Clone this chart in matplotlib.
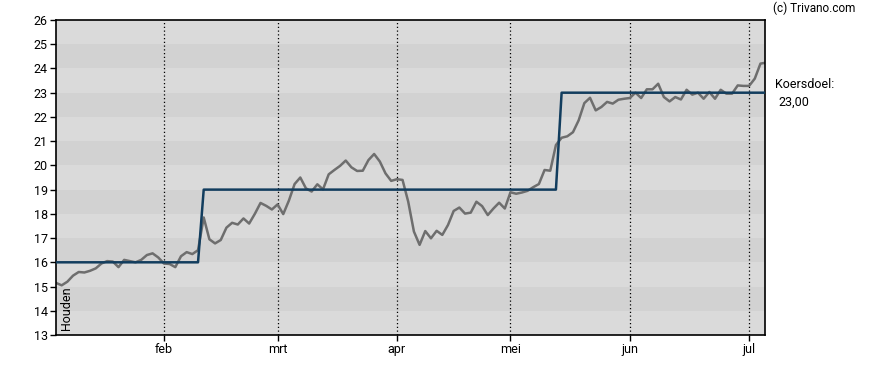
import matplotlib.pyplot as plt
import numpy as np

plt.rcParams['font.family'] = ['Roboto', 'DejaVu Sans']

# koers per handelsdag (jan - begin jul)
price = [
    15.15, 15.05, 15.2, 15.45, 15.6, 15.58, 15.65, 15.75, 15.95, 16.05,
    16.03, 15.8, 16.1, 16.05, 16.0, 16.1, 16.3, 16.37, 16.2, 15.95,
    15.93, 15.8, 16.25, 16.42, 16.34, 16.5, 17.85, 16.95, 16.78, 16.92,
    17.43, 17.63, 17.56, 17.81, 17.6, 18.0, 18.45, 18.33, 18.18, 18.39,
    17.99, 18.55, 19.23, 19.5, 19.05, 18.92, 19.22, 19.01, 19.63, 19.81,
    19.98, 20.2, 19.92, 19.77, 19.78, 20.22, 20.47, 20.16, 19.67, 19.36,
    19.43, 19.4, 18.5, 17.27, 16.72, 17.29, 16.99, 17.3, 17.13, 17.54,
    18.12, 18.26, 18.01, 18.05, 18.5, 18.32, 17.95, 18.22, 18.46, 18.22,
    18.89, 18.83, 18.88, 18.95, 19.1, 19.23, 19.81, 19.78, 20.84, 21.14,
    21.2, 21.37, 21.86, 22.57, 22.79, 22.27, 22.41, 22.62, 22.55, 22.71,
    22.75, 22.78, 23.0, 22.78, 23.14, 23.14, 23.37, 22.82, 22.64, 22.82,
    22.72, 23.12, 22.92, 23.0, 22.75, 23.03, 22.75, 23.12, 22.96, 22.96,
    23.3, 23.28, 23.28, 23.58, 24.2, 24.24,
]

# koersdoel: (laatste dag index, doel)
target_steps = [(25, 16.0), (88, 19.0), (125, 23.0)]
target_label = "23,00"

month_labels = ["feb", "mrt", "apr", "mei", "jun", "jul"]
month_idx = [19, 39, 60, 80, 101, 122]

x = np.arange(len(price))
target = np.empty(len(price))
start = 0
for end, val in target_steps:
    target[start:end + 1] = val
    start = end + 1

fig = plt.figure(figsize=(8.88, 3.70), dpi=100)
ax = fig.add_axes([56 / 888, 35 / 370, 709 / 888, 315 / 370])

# achtergrond banden
for v in range(13, 26):
    ax.axhspan(v, v + 1, color="#d2d2d2" if v % 2 == 0 else "#dadada", lw=0, zorder=0)

for m in month_idx:
    ax.axvline(m, color="black", ls=(0, (1, 2)), lw=0.9, zorder=1)

ax.plot(x, price, color="#6e6e6e", lw=1.8, zorder=2)
ax.plot(x, target, color="#123d5e", lw=1.8, zorder=3)

ax.set_xlim(0, 124.8)
ax.set_ylim(13, 26)
ax.set_yticks(range(13, 27))
ax.set_xticks(month_idx)
ax.set_xticklabels(month_labels)
ax.tick_params(labelsize=9, length=4, width=1, color="black", pad=2)
for s in ax.spines.values():
    s.set_color("black")
    s.set_linewidth(1.2)

ax.text(0.006, 0.015, "Houden", rotation=90, fontsize=9, transform=ax.transAxes,
        ha="left", va="bottom")

fig.text(773 / 888, 1 - 8 / 370, "(c) Trivano.com", fontsize=8.5, ha="left", va="center")
fig.text(775 / 888, 1 - 85 / 370, "Koersdoel:", fontsize=9, ha="left", va="center")
fig.text(778 / 888, 1 - 102 / 370, target_label, fontsize=9, ha="left", va="center")

fig.savefig("out.png", dpi=100)
